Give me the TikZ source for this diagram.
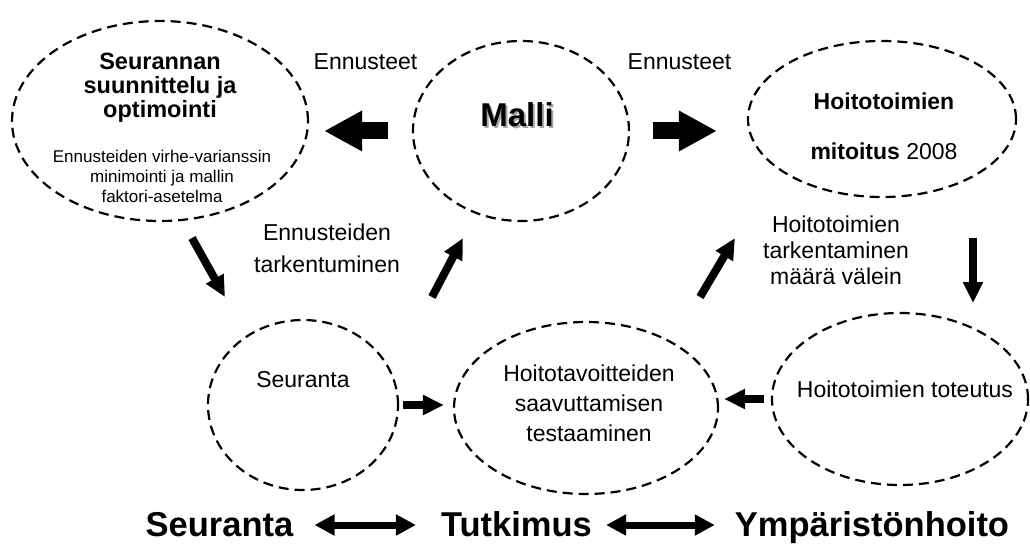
\documentclass[tikz,border=0pt]{standalone}
\usepackage{fontspec}
\setmainfont{Liberation Sans}
\usepackage{tikz}
\usetikzlibrary{shapes.geometric,arrows.meta,calc}
\tikzstyle{zone} = [draw=black, ellipse, line width=2.2pt,
    dash pattern=on 10pt off 6pt, inner sep=0pt]
\tikzstyle{lbl} = [inner sep=0pt, align=center, font=\fontsize{23}{26}\selectfont]
\tikzstyle{lblbold} = [inner sep=0pt, align=center, font=\fontsize{23.5}{24}\selectfont\bfseries]
\tikzstyle{small} = [inner sep=0pt, align=center, font=\fontsize{17}{20}\selectfont]
\tikzstyle{bottom} = [inner sep=0pt, anchor=base, font=\fontsize{34.5}{36}\selectfont\bfseries]
\tikzstyle{bigarrow} = [-{Triangle[length=38pt,width=38pt]}, line width=17pt]
\tikzstyle{midarrow} = [-{Triangle[length=21pt,width=19pt]}, line width=8pt]
\tikzstyle{twoway} = [{Triangle[length=20pt,width=20pt]}-{Triangle[length=20pt,width=20pt]}, line width=7pt]

\begin{document}
\begin{tikzpicture}[x=1pt,y=-1pt]
\useasboundingbox (0,0) rectangle (1030,548);

\node[zone, minimum width=296pt, minimum height=200pt] (plan) at (160,121) {};
\node[zone, minimum width=216pt, minimum height=180pt] (malli) at (521,131) {};
\node[zone, minimum width=268pt, minimum height=156pt] (mitoitus) at (882,119) {};
\node[zone, minimum width=190pt, minimum height=170pt] (seuranta) at (303,405) {};
\node[zone, minimum width=264pt, minimum height=172pt] (testaus) at (586,408) {};
\node[zone, minimum width=256pt, minimum height=172pt] (toteutus) at (900,399) {};

\node[lblbold] (plantitle) at (160,88) {Seurannan\\suunnittelu ja\\optimointi};
\node[small] (plantext) at (162,176) {Ennusteiden virhe-varianssin\\minimointi ja mallin\\faktori-asetelma};
\node[inner sep=0pt, text=gray!70, font=\fontsize{33}{36}\selectfont\bfseries] (mallishadow) at (519,117) {Malli};
\node[inner sep=0pt, font=\fontsize{33}{36}\selectfont\bfseries] (mallitext) at (517,115) {Malli};
\node[lbl, font=\fontsize{23}{50}\selectfont] (mitoitustext) at (884,126.5) {\textbf{Hoitotoimien}\\\textbf{mitoitus} 2008};
\node[lbl] (seurantatext) at (303,380) {Seuranta};
\node[lbl, font=\fontsize{23}{30}\selectfont] (testaustext) at (589,403.5) {Hoitotavoitteiden\\saavuttamisen\\testaaminen};
\node[lbl] (toteutustext) at (905,389.6) {Hoitotoimien toteutus};

\node[lbl] (ennleft) at (365.5,62) {Ennusteet};
\node[lbl] (ennright) at (679.5,62) {Ennusteet};
\node[lbl, font=\fontsize{23}{32}\selectfont] (tarkentuminen) at (327,248.5) {Ennusteiden\\tarkentuminen};
\node[lbl] (tarkentaminen) at (836,250.5) {Hoitotoimien\\tarkentaminen\\määrä välein};

\draw[bigarrow, shorten <=24pt, shorten >=15pt] (malli.west) -- (malli.west -| plan.east);
\draw[bigarrow, shorten <=23pt, shorten >=30pt] (malli.east) -- (malli.east -| mitoitus.west);
\draw[midarrow, shorten <=4pt, shorten >=9pt] (seuranta.east) -- (seuranta.east -| testaus.west);
\draw[midarrow, shorten <=7pt, shorten >=5pt] (toteutus.west) -- (toteutus.west -| testaus.east);

\coordinate (planout) at (192,238);
\coordinate (seurantain) at (225,297);
\coordinate (malliin) at (463,238);
\coordinate (malliout) at (432,297);
\coordinate (mitoitusin) at (735,238);
\coordinate (testausout) at (700,297);
\coordinate (mitoitusout) at (973,238);
\coordinate (toteutusin) at (973,303);
\draw[midarrow] (planout) -- (seurantain);
\draw[midarrow] (malliout) -- (malliin);
\draw[midarrow] (testausout) -- (mitoitusin);
\draw[midarrow] (mitoitusout) -- (toteutusin);

\node[bottom] (seurlbl) at (219.5,536) {Seuranta};
\node[bottom] (tutklbl) at (516.5,536) {Tutkimus};
\node[bottom] (ymplbl) at (872,536) {Ympäristönhoito};
\draw[twoway, shorten <=21pt, shorten >=25pt] ([yshift=11pt]seurlbl.base east) -- ([yshift=11pt]tutklbl.base west);
\draw[twoway, shorten <=14pt, shorten >=20pt] ([yshift=11pt]tutklbl.base east) -- ([yshift=11pt]ymplbl.base west);
\end{tikzpicture}
\end{document}
